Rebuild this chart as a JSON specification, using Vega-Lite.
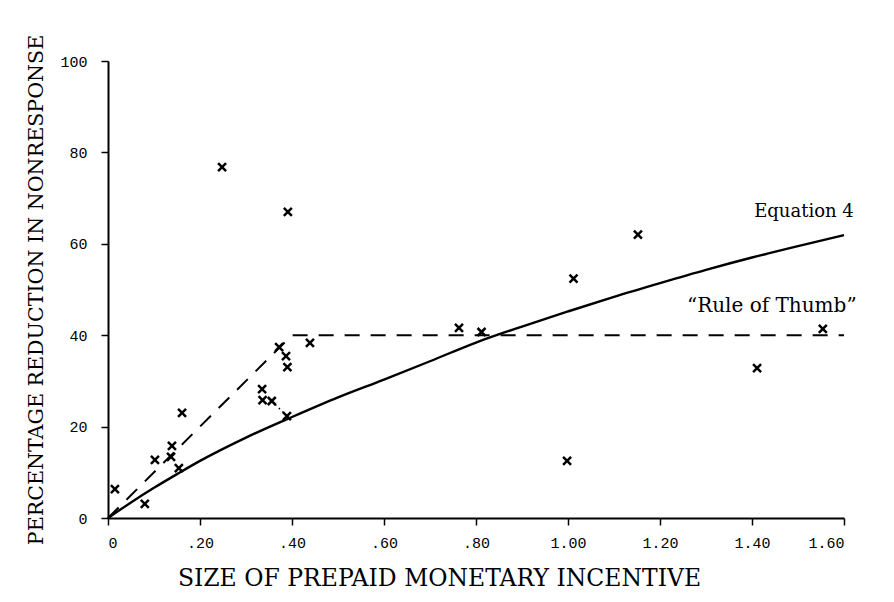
{
  "$schema": "https://vega.github.io/schema/vega-lite/v6.json",
  "width": 736,
  "height": 457,
  "autosize": "none",
  "padding": {"left": 108, "top": 61, "right": 50, "bottom": 84},
  "background": "white",
  "config": {"view": {"stroke": null}, "font": "DejaVu Serif"},
  "layer": [
    {
      "data": {"values": [
        {"x": 0.015, "y": 6.3}, {"x": 0.08, "y": 3.1}, {"x": 0.102, "y": 12.7},
        {"x": 0.137, "y": 13.4}, {"x": 0.139, "y": 15.8}, {"x": 0.154, "y": 10.9},
        {"x": 0.161, "y": 23.0}, {"x": 0.248, "y": 76.8}, {"x": 0.391, "y": 67.0},
        {"x": 0.335, "y": 28.2}, {"x": 0.336, "y": 25.8}, {"x": 0.356, "y": 25.6},
        {"x": 0.372, "y": 37.4}, {"x": 0.387, "y": 35.4}, {"x": 0.39, "y": 33.0},
        {"x": 0.389, "y": 22.3}, {"x": 0.439, "y": 38.3}, {"x": 0.763, "y": 41.6},
        {"x": 0.812, "y": 40.7}, {"x": 0.998, "y": 12.5}, {"x": 1.012, "y": 52.4},
        {"x": 1.152, "y": 62.0}, {"x": 1.411, "y": 32.8}, {"x": 1.554, "y": 41.4}
      ]},
      "mark": {"type": "point", "shape": "M-1,-1L1,1M1,-1L-1,1", "filled": false, "stroke": "black", "strokeWidth": 2.5, "size": 64, "opacity": 1},
      "encoding": {
        "x": {
          "field": "x", "type": "quantitative",
          "scale": {"domain": [0, 1.6], "nice": false},
          "axis": {
            "values": [0, 0.2, 0.4, 0.6, 0.8, 1.0, 1.2, 1.4, 1.6],
            "grid": false,
            "domainColor": "black", "domainWidth": 2,
            "tickColor": "black", "tickSize": 7, "tickWidth": 1.5,
            "labelFont": "Liberation Mono", "labelFontSize": 15, "labelColor": "black", "labelPadding": 10,
            "labelExpr": "datum.value == 0 ? '0' : (datum.value < 1 ? replace(format(datum.value, '.2f'), '0.', '.') : format(datum.value, '.2f'))",
            "title": "SIZE OF PREPAID MONETARY INCENTIVE",
            "titleFont": "DejaVu Serif", "titleFontSize": 23.5, "titleFontWeight": "normal", "titleColor": "black",
            "titleX": 331, "titleY": 60, "titleBaseline": "middle", "titleAlign": "center"
          }
        },
        "y": {
          "field": "y", "type": "quantitative",
          "scale": {"domain": [0, 100], "nice": false},
          "axis": {
            "values": [0, 20, 40, 60, 80, 100],
            "grid": false,
            "domainColor": "black", "domainWidth": 2,
            "tickColor": "black", "tickSize": 7, "tickWidth": 1.5,
            "labelFont": "Liberation Mono", "labelFontSize": 15, "labelColor": "black", "labelPadding": 14,
            "title": "PERCENTAGE REDUCTION IN NONRESPONSE",
            "titleFont": "DejaVu Serif", "titleFontSize": 20.6, "titleFontWeight": "normal", "titleColor": "black",
            "titleX": -72, "titleY": 228.5, "titleBaseline": "middle", "titleAlign": "center", "titleAngle": -90
          }
        }
      }
    },
    {
      "data": {"values": [
        {"x": 0, "y": 0}, {"x": 0.05, "y": 3.4}, {"x": 0.1, "y": 6.6}, {"x": 0.15, "y": 9.6},
        {"x": 0.2, "y": 12.5}, {"x": 0.3, "y": 17.6}, {"x": 0.4, "y": 22.1}, {"x": 0.5, "y": 26.4},
        {"x": 0.6, "y": 30.3}, {"x": 0.7, "y": 34.3}, {"x": 0.8, "y": 38.4}, {"x": 0.9, "y": 41.9},
        {"x": 1.0, "y": 45.2}, {"x": 1.1, "y": 48.4}, {"x": 1.2, "y": 51.4}, {"x": 1.3, "y": 54.3},
        {"x": 1.4, "y": 57.0}, {"x": 1.5, "y": 59.5}, {"x": 1.6, "y": 61.9}
      ]},
      "mark": {"type": "line", "color": "black", "strokeWidth": 2.4, "interpolate": "monotone"},
      "encoding": {
        "x": {"field": "x", "type": "quantitative"},
        "y": {"field": "y", "type": "quantitative"}
      }
    },
    {
      "data": {"values": [{"x": 0, "y": 0}, {"x": 0.4, "y": 40}, {"x": 1.6, "y": 40}]},
      "mark": {"type": "line", "color": "black", "strokeWidth": 2, "strokeDash": [15, 11]},
      "encoding": {
        "x": {"field": "x", "type": "quantitative"},
        "y": {"field": "y", "type": "quantitative"}
      }
    },
    {
      "data": {"values": [{"x": 0.356, "y": 25.6}, {"x": 0.389, "y": 22.3}]},
      "mark": {"type": "line", "color": "black", "strokeWidth": 1.5, "strokeDash": [1.5, 3.5]},
      "encoding": {
        "x": {"field": "x", "type": "quantitative"},
        "y": {"field": "y", "type": "quantitative"}
      }
    },
    {
      "data": {"values": [
        {"x": 1.513, "y": 67.0, "label": "Equation 4"}
      ]},
      "mark": {"type": "text", "font": "DejaVu Serif", "fontSize": 18, "color": "black", "align": "center", "baseline": "middle"},
      "encoding": {
        "x": {"field": "x", "type": "quantitative"},
        "y": {"field": "y", "type": "quantitative"},
        "text": {"field": "label"}
      }
    },
    {
      "data": {"values": [
        {"x": 1.443, "y": 46.4, "label": "“Rule of Thumb”"}
      ]},
      "mark": {"type": "text", "font": "DejaVu Serif", "fontSize": 20, "color": "black", "align": "center", "baseline": "middle"},
      "encoding": {
        "x": {"field": "x", "type": "quantitative"},
        "y": {"field": "y", "type": "quantitative"},
        "text": {"field": "label"}
      }
    }
  ]
}
